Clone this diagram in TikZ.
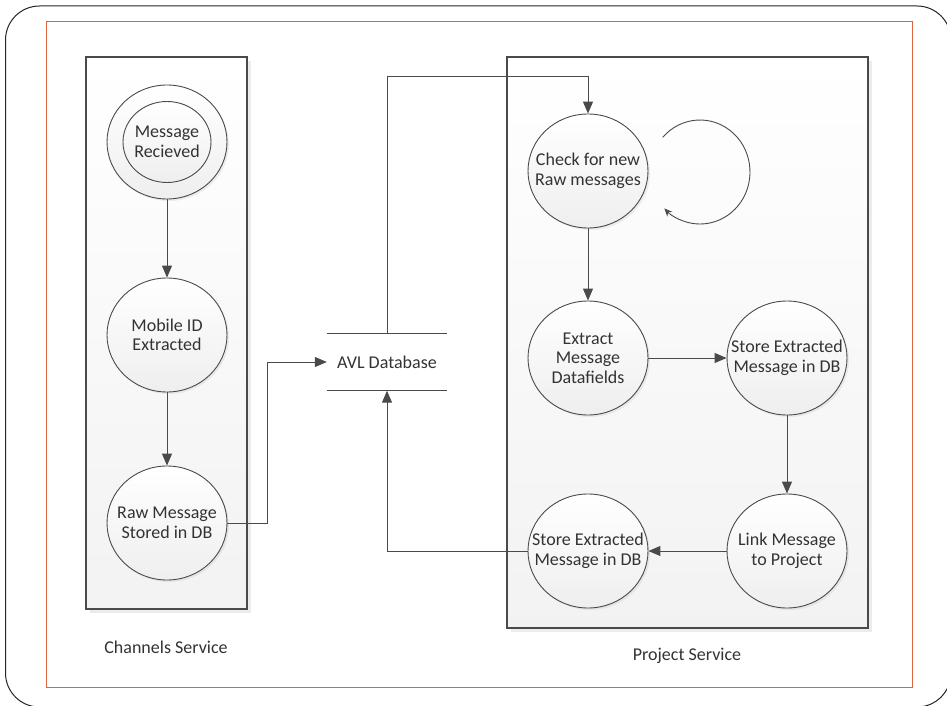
\documentclass[tikz,border=0pt]{standalone}
\usepackage{fontspec}
\setmainfont{Carlito}
\usetikzlibrary{shapes.geometric,arrows.meta,shadows}
\definecolor{ln}{HTML}{4A4A4A}
\definecolor{orng}{HTML}{E2623C}
\definecolor{txt}{HTML}{333333}
\tikzset{
  state/.style={ellipse, draw=ln, line width=0.9pt, minimum width=120pt, minimum height=114pt,
    inner xsep=-20pt, inner ysep=-12pt, top color=white, bottom color=gray!13, align=center, text=txt,
    font=\fontsize{18}{19.5}\selectfont,
    drop shadow={shadow xshift=2pt, shadow yshift=-2pt, opacity=0.12}},
  innerstate/.style={ellipse, draw=ln, line width=0.9pt, minimum width=88pt, minimum height=81pt,
    inner xsep=-20pt, inner ysep=-12pt, top color=white, bottom color=gray!13, align=center, text=txt,
    font=\fontsize{18}{19.5}\selectfont},
  svcbox/.style={rectangle, draw=ln, line width=1.4pt, inner sep=0pt,
    top color=white, bottom color=gray!10,
    drop shadow={shadow xshift=4pt, shadow yshift=-4pt, opacity=0.15, fill=gray}},
  flow/.style={draw=ln, line width=1pt, -{Triangle[length=12pt,width=10pt]}},
  lbl/.style={text=txt, font=\fontsize{18}{19.5}\selectfont, inner sep=0pt},
}
\begin{document}
\begin{tikzpicture}[x=1pt,y=-1pt]
\useasboundingbox (0,0) rectangle (947,706);
\clip (0,0) rectangle (947,706);
\fill[white] (0,0) rectangle (947,706);
% frames
\draw[black!85, line width=1pt, rounded corners=34pt] (5.5,6) rectangle (951,707);
\draw[orng, line width=1pt] (46,22) rectangle (912,687);
% service boxes
\node[svcbox, minimum width=161pt, minimum height=552pt] (chan) at (166.5,333) {};
\node[svcbox, minimum width=361pt, minimum height=571pt] (proj) at (687.5,342.5) {};
% channel states
\node[state] (msgO) at (167,142) {};
\node[innerstate] (msgI) at (167,142) {Message\\Recieved};
\node[state] (mob) at (167,335) {Mobile ID\\Extracted};
\node[state] (raw) at (167,523) {Raw Message\\Stored in DB};
% database
\node[lbl, minimum width=120pt, minimum height=57pt] (avl) at (387,362) {AVL Database};
\draw[ln, line width=1.2pt] (avl.north west) -- (avl.north east);
\draw[ln, line width=1.2pt] (avl.south west) -- (avl.south east);
% project states
\node[state] (chk) at (588,171) {Check for new\\Raw messages};
\node[state] (ext) at (588,358) {Extract\\Message\\Datafields};
\node[state] (sto1) at (787,358) {Store Extracted\\Message in DB};
\node[state] (link) at (787,551) {Link Message\\to Project};
\node[state] (sto2) at (588,551) {Store Extracted\\Message in DB};
% labels
\node[lbl] (chl) at (166,647) {Channels Service};
\node[lbl] (prl) at (687,656) {Project Service};
% connectors
\draw[flow] (msgO.south) -- (mob.north);
\draw[flow] (mob.south) -- (raw.north);
\draw[flow] (raw.east) -- ++(40,0) |- (avl.west);
\draw[flow] (avl.north) -- ++(0,-257) -| (chk.north);
\draw[flow] (sto2.west) -| (avl.south);
\draw[flow] (chk.south) -- (ext.north);
\draw[flow] (ext.east) -- (sto1.west);
\draw[flow] (sto1.south) -- (link.north);
\draw[flow] (link.west) -- (sto2.east);
% self loop
\coordinate (loopc) at (700,172);
\draw[ln, line width=0.9pt, -{Stealth[length=8pt,width=7pt]}]
  ([shift={(221.7:50 and 52)}]loopc) arc[start angle=221.7, end angle=495.5, x radius=50, y radius=52];
\end{tikzpicture}
\end{document}
